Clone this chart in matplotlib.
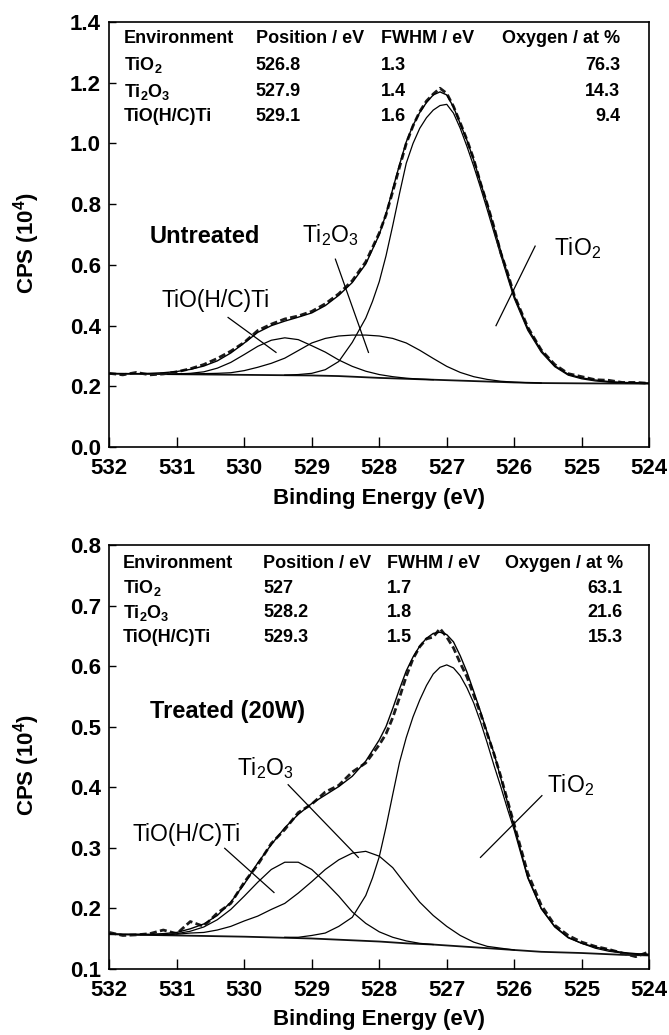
import matplotlib
matplotlib.use('Agg')
import matplotlib.pyplot as plt
from matplotlib.ticker import MultipleLocator, FormatStrFormatter

plt.rcParams['font.family'] = ['Liberation Sans', 'DejaVu Sans']
plt.rcParams['font.weight'] = 'bold'
plt.rcParams['axes.labelweight'] = 'bold'
plt.rcParams['mathtext.fontset'] = 'custom'
plt.rcParams['mathtext.rm'] = 'Liberation Sans:weight=normal'
plt.rcParams['mathtext.bf'] = 'Liberation Sans:weight=bold'
plt.rcParams['mathtext.it'] = 'Liberation Sans:italic'

# binding energy grid used for the measured spectrum and the fit envelope
be_grid = [532.0, 531.8, 531.6, 531.4, 531.2, 531.0, 530.8, 530.6, 530.4, 530.2,
           530.0, 529.8, 529.6, 529.4, 529.2, 529.0, 528.8, 528.6, 528.4, 528.2,
           528.0, 527.9, 527.8, 527.7, 527.6, 527.5, 527.4, 527.3, 527.2, 527.1,
           527.0, 526.9, 526.8, 526.7, 526.6, 526.5, 526.4, 526.3, 526.2, 526.1,
           526.0, 525.8, 525.6, 525.4, 525.2, 525.0, 524.8, 524.6, 524.4, 524.2, 524.0]

# ---- untreated ----
data_top = [0.243, 0.238, 0.246, 0.238, 0.241, 0.248, 0.258, 0.272, 0.292, 0.316,
            0.345, 0.384, 0.405, 0.422, 0.432, 0.447, 0.472, 0.505, 0.548, 0.610,
            0.705, 0.765, 0.842, 0.922, 1.000, 1.058, 1.105, 1.140, 1.163, 1.182,
            1.165, 1.122, 1.068, 1.012, 0.948, 0.870, 0.800, 0.725, 0.640, 0.575,
            0.500, 0.395, 0.320, 0.272, 0.242, 0.232, 0.222, 0.220, 0.213, 0.213, 0.210]
env_top = [0.242, 0.242, 0.242, 0.243, 0.245, 0.249, 0.256, 0.267, 0.284, 0.310,
           0.343, 0.378, 0.400, 0.415, 0.428, 0.442, 0.466, 0.500, 0.542, 0.603,
           0.700, 0.768, 0.850, 0.930, 1.005, 1.060, 1.102, 1.135, 1.160, 1.170,
           1.160, 1.120, 1.065, 1.010, 0.945, 0.872, 0.800, 0.722, 0.646, 0.570,
           0.498, 0.392, 0.318, 0.268, 0.240, 0.228, 0.221, 0.216, 0.213, 0.212, 0.211]

bg_top_x = [532.0, 531.0, 530.0, 529.0, 528.6, 528.2, 528.0, 527.6, 527.2, 526.8,
            526.4, 526.0, 525.6, 525.0, 524.0]
bg_top = [0.242, 0.240, 0.238, 0.236, 0.234, 0.230, 0.228, 0.225, 0.222, 0.219,
          0.216, 0.213, 0.211, 0.210, 0.209]

tio2_x = [529.4, 529.2, 529.0, 528.8, 528.6, 528.4, 528.2, 528.1, 528.0, 527.9,
          527.8, 527.7, 527.6, 527.5, 527.4, 527.3, 527.2, 527.1, 527.0, 526.9,
          526.8, 526.7, 526.6, 526.5, 526.4, 526.3, 526.2, 526.1, 526.0, 525.8,
          525.6, 525.4, 525.2, 525.0, 524.8, 524.6, 524.4, 524.2, 524.0]
tio2_top = [0.237, 0.239, 0.243, 0.255, 0.282, 0.345, 0.425, 0.480, 0.545, 0.630,
            0.730, 0.835, 0.935, 1.000, 1.050, 1.085, 1.110, 1.125, 1.129, 1.100,
            1.050, 0.990, 0.925, 0.855, 0.782, 0.707, 0.633, 0.560, 0.490, 0.385,
            0.313, 0.265, 0.237, 0.225, 0.218, 0.214, 0.212, 0.211, 0.210]

ti2o3_top_x = [531.2, 531.0, 530.8, 530.6, 530.4, 530.2, 530.0, 529.8, 529.6, 529.4,
               529.2, 529.0, 528.8, 528.6, 528.4, 528.2, 528.0, 527.8, 527.6, 527.4,
               527.2, 527.0, 526.8, 526.6, 526.4, 526.2, 526.0, 525.8, 525.6]
ti2o3_top = [0.240, 0.241, 0.241, 0.242, 0.243, 0.245, 0.252, 0.263, 0.276, 0.293,
             0.318, 0.343, 0.358, 0.366, 0.369, 0.369, 0.366, 0.358, 0.343, 0.319,
             0.292, 0.266, 0.246, 0.232, 0.223, 0.217, 0.214, 0.212, 0.211]

tiohc_top_x = [531.2, 531.0, 530.8, 530.6, 530.4, 530.2, 530.0, 529.8, 529.6, 529.4,
               529.2, 529.0, 528.8, 528.6, 528.4, 528.2, 528.0, 527.8, 527.6, 527.4, 527.2]
tiohc_top = [0.240, 0.241, 0.243, 0.248, 0.260, 0.279, 0.305, 0.332, 0.352, 0.360,
             0.354, 0.334, 0.313, 0.287, 0.266, 0.250, 0.239, 0.232, 0.227, 0.224, 0.222]

# ---- treated (20W) ----
data_bot = [0.160, 0.155, 0.156, 0.158, 0.164, 0.158, 0.178, 0.170, 0.192, 0.208,
            0.243, 0.272, 0.307, 0.330, 0.358, 0.372, 0.392, 0.403, 0.425, 0.440,
            0.470, 0.488, 0.515, 0.548, 0.583, 0.612, 0.632, 0.645, 0.648, 0.662,
            0.648, 0.630, 0.605, 0.582, 0.552, 0.522, 0.488, 0.455, 0.418, 0.378,
            0.338, 0.258, 0.205, 0.172, 0.155, 0.144, 0.137, 0.132, 0.126, 0.120, 0.128]
env_bot = [0.158, 0.157, 0.157, 0.157, 0.158, 0.160, 0.166, 0.174, 0.188, 0.210,
           0.240, 0.275, 0.305, 0.333, 0.355, 0.373, 0.387, 0.401, 0.418, 0.443,
           0.478, 0.500, 0.530, 0.562, 0.592, 0.615, 0.633, 0.646, 0.654, 0.656,
           0.652, 0.640, 0.617, 0.590, 0.558, 0.525, 0.490, 0.456, 0.415, 0.375,
           0.335, 0.252, 0.200, 0.170, 0.152, 0.142, 0.136, 0.131, 0.127, 0.125, 0.124]

bg_bot_x = [532.0, 531.0, 530.0, 529.0, 528.6, 528.2, 528.0, 527.6, 527.2, 526.8,
            526.4, 526.0, 525.6, 525.0, 524.4, 524.0]
bg_bot = [0.157, 0.155, 0.153, 0.150, 0.148, 0.146, 0.145, 0.142, 0.140, 0.137,
          0.134, 0.131, 0.128, 0.126, 0.123, 0.122]

tio2_bot = [0.152, 0.152, 0.155, 0.159, 0.170, 0.185, 0.221, 0.250, 0.285, 0.334,
            0.388, 0.441, 0.482, 0.516, 0.544, 0.568, 0.587, 0.598, 0.602, 0.597,
            0.584, 0.564, 0.539, 0.508, 0.473, 0.436, 0.401, 0.364, 0.329, 0.250,
            0.199, 0.169, 0.151, 0.142, 0.134, 0.129, 0.126, 0.124, 0.123]

ti2o3_bot_x = [531.2, 531.0, 530.8, 530.6, 530.4, 530.2, 530.0, 529.8, 529.6, 529.4,
               529.2, 529.0, 528.8, 528.6, 528.4, 528.2, 528.0, 527.8, 527.6, 527.4,
               527.2, 527.0, 526.8, 526.6, 526.4, 526.2, 526.0]
ti2o3_bot = [0.156, 0.157, 0.159, 0.160, 0.164, 0.170, 0.179, 0.187, 0.198, 0.208,
             0.225, 0.244, 0.264, 0.280, 0.291, 0.294, 0.286, 0.267, 0.238, 0.210,
             0.188, 0.170, 0.155, 0.144, 0.137, 0.134, 0.131]

tiohc_bot_x = [531.6, 531.4, 531.2, 531.0, 530.8, 530.6, 530.4, 530.2, 530.0, 529.8,
               529.6, 529.4, 529.2, 529.0, 528.8, 528.6, 528.4, 528.2, 528.0, 527.8,
               527.6, 527.4, 527.2]
tiohc_bot = [0.156, 0.156, 0.156, 0.158, 0.162, 0.169, 0.181, 0.198, 0.220, 0.243,
             0.264, 0.276, 0.276, 0.264, 0.243, 0.220, 0.194, 0.175, 0.161, 0.152,
             0.146, 0.142, 0.140]

# fit tables
headers = ['Environment', 'Position / eV', 'FWHM / eV', 'Oxygen / at %']
env_names = [r'TiO$_\mathbf{2}$', r'Ti$_\mathbf{2}$O$_\mathbf{3}$', 'TiO(H/C)Ti']
pos_top = ['526.8', '527.9', '529.1']
fwhm_top = ['1.3', '1.4', '1.6']
oxy_top = ['76.3', '14.3', '9.4']
pos_bot = ['527', '528.2', '529.3']
fwhm_bot = ['1.7', '1.8', '1.5']
oxy_bot = ['63.1', '21.6', '15.3']


fig = plt.figure(figsize=(6.69, 10.35), dpi=100)
ax1 = fig.add_axes([0.1634, 0.568, 0.807, 0.4107])
ax2 = fig.add_axes([0.1634, 0.064, 0.807, 0.4094])

FS = 16
TFS = 13


def style(ax, ylo, yhi, step):
    ax.set_xlim(532, 524)
    ax.set_ylim(ylo, yhi)
    ax.xaxis.set_major_locator(MultipleLocator(1))
    ax.xaxis.set_major_formatter(FormatStrFormatter('%d'))
    ax.yaxis.set_major_locator(MultipleLocator(step))
    ax.yaxis.set_major_formatter(FormatStrFormatter('%.1f'))
    ax.tick_params(axis='x', direction='in', length=7, width=1, pad=8, labelsize=FS)
    ax.tick_params(axis='y', direction='in', length=5, width=1, pad=6, labelsize=FS)
    for s in ax.spines.values():
        s.set_linewidth(1.2)
    ax.set_xlabel('Binding Energy (eV)', fontsize=FS, labelpad=6)
    ax.set_ylabel(r'CPS (10$^\mathbf{4}$)', fontsize=FS)
    ax.yaxis.set_label_coords(-0.125, 0.48)


def table(ax, cols, right, rows_y, pos, fwhm, oxy):
    for h, x in zip(headers[:3], cols):
        ax.text(x, rows_y[0], h, fontsize=TFS, va='center', ha='left')
    ax.text(right, rows_y[0], headers[3], fontsize=TFS, va='center', ha='right')
    for i in range(3):
        y = rows_y[i + 1]
        ax.text(cols[0], y, env_names[i], fontsize=TFS, va='center', ha='left')
        ax.text(cols[1], y, pos[i], fontsize=TFS, va='center', ha='left')
        ax.text(cols[2], y, fwhm[i], fontsize=TFS, va='center', ha='left')
        ax.text(right, y, oxy[i], fontsize=TFS, va='center', ha='right')


def spectra(ax, bgx, bg, ohx, oh, t3x, t3, t2, env, data):
    ax.plot(bgx, bg, color='#111111', lw=1.3)
    ax.plot(ohx, oh, color='black', lw=0.9)
    ax.plot(t3x, t3, color='black', lw=0.9)
    ax.plot(tio2_x, t2, color='black', lw=0.9)
    ax.plot(be_grid, data, color='#1a1a1a', lw=2.0, dashes=(2.5, 1.2))
    ax.plot(be_grid, env, color='black', lw=1.0)


# top panel
spectra(ax1, bg_top_x, bg_top, tiohc_top_x, tiohc_top, ti2o3_top_x, ti2o3_top,
        tio2_top, env_top, data_top)
style(ax1, 0.0, 1.4, 0.2)
table(ax1, [531.78, 529.83, 527.98], 524.43, [1.347, 1.258, 1.170, 1.089],
      pos_top, fwhm_top, oxy_top)
ax1.text(531.41, 0.695, 'Untreated', fontsize=17, va='center', ha='left')
ax1.text(528.72, 0.70, r'Ti$_\mathrm{2}$O$_\mathrm{3}$', fontsize=16.5,
         fontweight='normal', va='center', ha='center')
ax1.plot([528.65, 528.16], [0.619, 0.312], color='black', lw=0.9)
ax1.text(530.42, 0.482, 'TiO(H/C)Ti', fontsize=16.5, fontweight='normal',
         va='center', ha='center')
ax1.plot([530.24, 529.53], [0.427, 0.312], color='black', lw=0.9)
ax1.text(525.06, 0.657, r'TiO$_\mathrm{2}$', fontsize=16.5, fontweight='normal',
         va='center', ha='center')
ax1.plot([525.69, 526.27], [0.662, 0.400], color='black', lw=0.9)

# bottom panel
spectra(ax2, bg_bot_x, bg_bot, tiohc_bot_x, tiohc_bot, ti2o3_bot_x, ti2o3_bot,
        tio2_bot, env_bot, data_bot)
style(ax2, 0.1, 0.8, 0.1)
table(ax2, [531.80, 529.72, 527.88], 524.39, [0.770, 0.729, 0.688, 0.648],
      pos_bot, fwhm_bot, oxy_bot)
ax2.text(531.40, 0.525, 'Treated (20W)', fontsize=17, va='center', ha='left')
ax2.text(529.69, 0.431, r'Ti$_\mathrm{2}$O$_\mathrm{3}$', fontsize=16.5,
         fontweight='normal', va='center', ha='center')
ax2.plot([529.35, 528.31], [0.404, 0.284], color='black', lw=0.9)
ax2.text(530.85, 0.321, 'TiO(H/C)Ti', fontsize=16.5, fontweight='normal',
         va='center', ha='center')
ax2.plot([530.29, 529.56], [0.299, 0.226], color='black', lw=0.9)
ax2.text(525.17, 0.404, r'TiO$_\mathrm{2}$', fontsize=16.5, fontweight='normal',
         va='center', ha='center')
ax2.plot([525.59, 526.50], [0.386, 0.284], color='black', lw=0.9)

plt.savefig('out.png', dpi=100)
